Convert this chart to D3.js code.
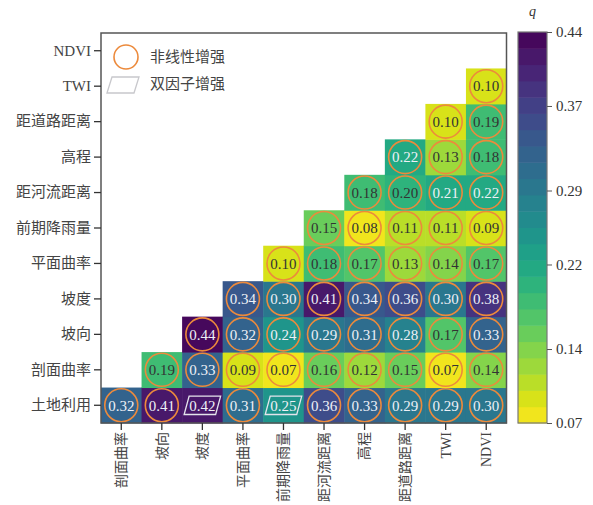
<!DOCTYPE html>
<html>
<head>
<meta charset="utf-8">
<script src="https://cdn.jsdelivr.net/npm/d3@7"></script>
<style>
  html, body { margin: 0; padding: 0; background: #fff; }
  svg { display: block; font-family: "Liberation Serif", "Noto Sans CJK SC", serif; }
</style>
</head>
<body>
<svg id="chart" width="593" height="505"></svg>
<script>
// Factors, bottom row first; columns use every factor after the first one.
const factors = ["土地利用", "剖面曲率", "坡向", "坡度", "平面曲率", "前期降雨量", "距河流距离", "高程", "距道路距离", "TWI", "NDVI"];
const columnFactors = factors.slice(1);
const rowFactors = factors.slice().reverse();

// Interaction q values per row, listed left to right for the columns that are drawn.
const qLandUse   = [0.32, 0.41, 0.42, 0.31, 0.25, 0.36, 0.33, 0.29, 0.29, 0.30];
const qProfile   = [0.19, 0.33, 0.09, 0.07, 0.16, 0.12, 0.15, 0.07, 0.14];
const qAspect    = [0.44, 0.32, 0.24, 0.29, 0.31, 0.28, 0.17, 0.33];
const qSlope     = [0.34, 0.30, 0.41, 0.34, 0.36, 0.30, 0.38];
const qPlan      = [0.10, 0.18, 0.17, 0.13, 0.14, 0.17];
const qRain      = [0.15, 0.08, 0.11, 0.11, 0.09];
const qRiver     = [0.18, 0.20, 0.21, 0.22];
const qElevation = [0.22, 0.13, 0.18];
const qRoad      = [0.10, 0.19];
const qTWI       = [0.10];
const rowValues = [qLandUse, qProfile, qAspect, qSlope, qPlan, qRain, qRiver, qElevation, qRoad, qTWI];

// Pairs whose interaction is bivariate enhancement; all others are nonlinear enhancement.
const bivariatePairs = [["土地利用", "坡度"], ["土地利用", "前期降雨量"]];

const colorTicks = [0.07, 0.14, 0.22, 0.29, 0.37, 0.44];
const legendLabels = ["非线性增强", "双因子增强"];

// Build the cell table
const cells = [];
rowValues.forEach((vals, r) => {
  vals.forEach((v, k) => {
    const col = columnFactors[r + k];
    const row = factors[r];
    const biv = bivariatePairs.some(p => p[0] === row && p[1] === col);
    cells.push({ row, col, value: v, bivariate: biv });
  });
});

const svg = d3.select("#chart");
const plotL = 101, plotR = 506.5, plotT = 33, plotB = 423;

const x = d3.scaleBand().domain(columnFactors).range([plotL, plotR]).padding(0);
const y = d3.scaleBand().domain(rowFactors).range([plotT, plotB]).padding(0);

const qMin = 0.07, qMax = 0.44, nLevels = 24;
const quant = v => {
  const t = Math.max(0, Math.min(1, (v - qMin) / (qMax - qMin)));
  const k = Math.min(nLevels - 1, Math.floor(t * nLevels));
  return (k + 0.5) / nLevels;
};
const color = v => d3.interpolateViridis(1 - quant(v));

// Heatmap cells
svg.append("g").selectAll("rect").data(cells).join("rect")
  .attr("x", d => x(d.col))
  .attr("y", d => y(d.row))
  .attr("width", x.bandwidth() + 0.5)
  .attr("height", y.bandwidth() + 0.5)
  .attr("fill", d => color(d.value));

// Enhancement markers
const markers = svg.append("g");
const pw = x.bandwidth() * 0.9, ph = y.bandwidth() * 0.52, sk = 5;
cells.forEach(d => {
  const cx = x(d.col) + x.bandwidth() / 2, cy = y(d.row) + y.bandwidth() / 2;
  if (d.bivariate) {
    const pts = [[-pw / 2, ph / 2], [-pw / 2 + sk, -ph / 2], [pw / 2, -ph / 2], [pw / 2 - sk, ph / 2]];
    markers.append("polygon")
      .attr("points", pts.map(p => [cx + p[0], cy + p[1]].join(",")).join(" "))
      .attr("fill", "none").attr("stroke", "#e4e4ec").attr("stroke-width", 1.3);
  } else {
    markers.append("circle")
      .attr("cx", cx).attr("cy", cy).attr("r", 16.5)
      .attr("fill", "none").attr("stroke", "#ec8a3c").attr("stroke-width", 1.6);
  }
});

// Value labels
svg.append("g").selectAll("text").data(cells).join("text")
  .attr("x", d => x(d.col) + x.bandwidth() / 2)
  .attr("y", d => y(d.row) + y.bandwidth() / 2)
  .attr("dy", "0.35em")
  .attr("text-anchor", "middle")
  .attr("font-size", 15)
  .attr("fill", d => d.value >= 0.205 ? "#eef0f6" : "#333")
  .text(d => d.value.toFixed(2));

// Frame
svg.append("rect")
  .attr("x", plotL).attr("y", plotT)
  .attr("width", plotR - plotL).attr("height", plotB - plotT)
  .attr("fill", "none").attr("stroke", "#555").attr("stroke-width", 1.5);

// Axes
const yAxis = d3.axisLeft(y).tickSize(7).tickPadding(3);
const gy = svg.append("g").attr("transform", `translate(${plotL},0)`).call(yAxis);
gy.select(".domain").remove();
gy.selectAll("line").attr("stroke", "#333").attr("stroke-width", 1.3);
gy.selectAll("text").attr("font-size", 15).attr("fill", "#444")
  .attr("font-family", "Liberation Serif, Noto Sans CJK SC, serif");

const xAxis = d3.axisBottom(x).tickSize(7).tickPadding(3);
const gx = svg.append("g").attr("transform", `translate(0,${plotB})`).call(xAxis);
gx.select(".domain").remove();
gx.selectAll("line").attr("stroke", "#333").attr("stroke-width", 1.3);
gx.selectAll("text")
  .attr("font-size", 14).attr("fill", "#444")
  .attr("font-family", "Liberation Serif, Noto Sans CJK SC, serif")
  .attr("transform", "rotate(-90)")
  .attr("text-anchor", "end")
  .attr("x", -9).attr("y", 0).attr("dy", "0.35em");

// Legend
const lg = svg.append("g");
lg.append("circle").attr("cx", 126).attr("cy", 57).attr("r", 12)
  .attr("fill", "none").attr("stroke", "#ec8a3c").attr("stroke-width", 1.6);
lg.append("polygon")
  .attr("points", [[107, 93], [112, 77], [139, 77], [134, 93]].map(p => p.join(",")).join(" "))
  .attr("fill", "none").attr("stroke", "#c8c8cc").attr("stroke-width", 1.3);
lg.selectAll("text").data(legendLabels).join("text")
  .attr("x", 150).attr("y", (d, i) => 57 + i * 27)
  .attr("dy", "0.35em").attr("font-size", 15).attr("fill", "#444")
  .text(d => d);

// Colorbar
const cbX = 518, cbW = 29;
const cbY = d3.scaleLinear().domain([qMin, qMax]).range([plotB, plotT - 1]);
const cb = svg.append("g");
d3.range(nLevels).forEach(k => {
  const v0 = qMin + (qMax - qMin) * k / nLevels;
  const v1 = qMin + (qMax - qMin) * (k + 1) / nLevels;
  cb.append("rect")
    .attr("x", cbX).attr("y", cbY(v1))
    .attr("width", cbW).attr("height", cbY(v0) - cbY(v1) + 0.5)
    .attr("fill", d3.interpolateViridis(1 - (k + 0.5) / nLevels));
});
cb.append("rect")
  .attr("x", cbX).attr("y", cbY(qMax)).attr("width", cbW).attr("height", cbY(qMin) - cbY(qMax))
  .attr("fill", "none").attr("stroke", "#777").attr("stroke-width", 1.2);
const cAxis = d3.axisRight(cbY).tickValues(colorTicks).tickFormat(d3.format(".2f")).tickSize(5).tickPadding(4);
const gc = svg.append("g").attr("transform", `translate(${cbX + cbW},0)`).call(cAxis);
gc.select(".domain").remove();
gc.selectAll("line").attr("stroke", "#555");
gc.selectAll("text").attr("font-size", 15).attr("fill", "#333")
  .attr("font-family", "Liberation Serif, serif");
svg.append("text").attr("x", cbX + cbW / 2).attr("y", 16)
  .attr("text-anchor", "middle").attr("font-size", 14).attr("font-style", "italic")
  .attr("fill", "#333").text("q");
</script>
</body>
</html>
